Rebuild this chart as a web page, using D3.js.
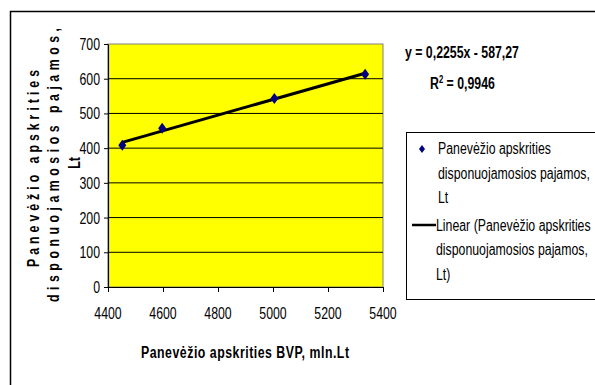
<!DOCTYPE html>
<html><head><meta charset="utf-8">
<script src="https://cdn.jsdelivr.net/npm/d3@7"></script>
<style>body{margin:0;background:#fff}svg{display:block}text{font-family:"Liberation Sans",Arial,sans-serif}</style>
</head><body>
<script>
const bvp = [4452, 4597, 5005, 5335];
const pajamos = [408, 457, 543, 613];
const xTicks = [4400, 4600, 4800, 5000, 5200, 5400];
const yTicks = [0, 100, 200, 300, 400, 500, 600, 700];
const trendSlope = [0.2255];
const trendIntercept = [-587.27];
const equationText = ["y = 0,2255x - 587,27", "0,9946"];
const legendSeries = ["Panevėžio apskrities", "disponuojamosios pajamos,", "Lt"];
const legendTrend = ["Linear (Panevėžio apskrities", "disponuojamosios pajamos,", "Lt)"];
const yTitle = ["Panevėžio apskrities", "disponuojamosios pajamos,", "Lt"];
const xTitle = "Panevėžio apskrities BVP, mln.Lt";

const W = 595, H = 385, SX = 0.77, FS = 16;
const svg = d3.select("body").append("svg").attr("width", W).attr("height", H);

function ntext(parent, px, py, str, o = {}) {
  const g = parent.append("g").attr("transform", `translate(${px},${py})${o.rot ? " rotate(" + o.rot + ")" : ""} scale(${SX},1)`);
  const t = g.append("text").attr("x", 0).attr("y", 0).attr("font-size", o.fs || FS)
    .attr("text-anchor", o.anchor || "start").attr("font-weight", o.bold ? "bold" : "normal").attr("fill", "#000").text(str);
  if (o.len) t.attr("textLength", o.len / SX).attr("lengthAdjust", "spacing");
  return t;
}

svg.append("rect").attr("x", 10.5).attr("y", 11.5).attr("width", 600).attr("height", 400)
  .attr("fill", "#fff").attr("stroke", "#000").attr("stroke-width", 1.5);

const x = d3.scaleLinear().domain([4400, 5400]).range([108, 383]);
const y = d3.scaleLinear().domain([0, 700]).range([287, 44]);

svg.append("rect").attr("x", x(4400)).attr("y", y(700)).attr("width", x(5400) - x(4400)).attr("height", y(0) - y(700))
  .attr("fill", "#ffff00").attr("stroke", "#808080").attr("stroke-width", 1);

svg.append("g").selectAll("line").data(yTicks.filter(d => d > 0 && d < 700)).join("line")
  .attr("x1", x(4400)).attr("x2", x(5400)).attr("y1", d => y(d)).attr("y2", d => y(d))
  .attr("stroke", "#000").attr("stroke-width", 1);

const yAxis = svg.append("g").attr("transform", `translate(${x(4400)},0)`)
  .call(d3.axisLeft(y).tickValues(yTicks).tickSize(4).tickFormat("").tickSizeOuter(0));
const xAxis = svg.append("g").attr("transform", `translate(0,${y(0)})`)
  .call(d3.axisBottom(x).tickValues(xTicks).tickSize(5).tickFormat("").tickSizeOuter(0));
[yAxis, xAxis].forEach(a => {
  a.select(".domain").attr("stroke", "#000").attr("stroke-width", 1.2);
  a.selectAll(".tick line").attr("stroke", "#000");
});
yTicks.forEach(d => ntext(svg, 100, y(d) + 6, String(d), { anchor: "end" }));
xTicks.forEach(d => ntext(svg, x(d), 319, String(d), { anchor: "middle" }));

// trend line
const xs = d3.extent(bvp);
svg.append("line").attr("x1", x(xs[0])).attr("x2", x(xs[1]))
  .attr("y1", y(trendSlope[0] * xs[0] + trendIntercept[0])).attr("y2", y(trendSlope[0] * xs[1] + trendIntercept[0]))
  .attr("stroke", "#000").attr("stroke-width", 3);

const diamond = "M0,-5.5L4,0L0,5.5L-4,0Z";
svg.append("g").selectAll("path").data(bvp).join("path")
  .attr("d", diamond).attr("fill", "#000080")
  .attr("transform", (d, i) => `translate(${x(d)},${y(pajamos[i])})`);

// equation
ntext(svg, 405, 58, equationText[0], { bold: true });
const r2 = ntext(svg, 430, 89, "R", { bold: true });
r2.append("tspan").attr("dy", -6).attr("font-size", 10).text("2");
r2.append("tspan").attr("dy", 6).text(" = " + equationText[1]);

// legend
svg.append("rect").attr("x", 406.5).attr("y", 132.5).attr("width", 200).attr("height", 167)
  .attr("fill", "#fff").attr("stroke", "#000").attr("stroke-width", 1);
svg.append("path").attr("d", "M0,-4L3,0L0,4L-3,0Z").attr("fill", "#000080").attr("transform", "translate(422,149)");
svg.append("line").attr("x1", 412).attr("x2", 436).attr("y1", 225).attr("y2", 225).attr("stroke", "#000").attr("stroke-width", 2.5);
legendSeries.forEach((t, i) => ntext(svg, 438, 154 + i * 24.5, t));
legendTrend.forEach((t, i) => ntext(svg, 436, 230.5 + i * 24.5, t));

// axis titles
ntext(svg, 245, 358, xTitle, { anchor: "middle", bold: true, len: 208 });
ntext(svg, 39, 168.5, yTitle[0], { anchor: "middle", bold: true, rot: -90, len: 197 });
ntext(svg, 59, 165, yTitle[1], { anchor: "middle", bold: true, rot: -90, len: 274 });
ntext(svg, 80, 163, yTitle[2], { anchor: "middle", bold: true, rot: -90 });
</script>
</body></html>
